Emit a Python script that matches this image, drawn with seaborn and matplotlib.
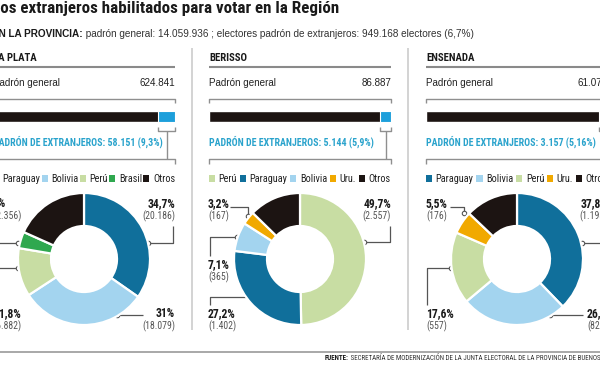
import matplotlib
matplotlib.use("Agg")
import matplotlib.pyplot as plt
import matplotlib.font_manager as fm
from matplotlib.patches import Patch
import seaborn as sns

# ---------------- data ----------------
title = "Los extranjeros habilitados para votar en la Región"
sub_bold = "EN LA PROVINCIA:"
sub_rest = " padrón general: 14.059.936 ; electores padrón de extranjeros: 949.168 electores (6,7%)"
source_bold = "FUENTE:"
source_rest = " SECRETARÍA DE MODERNIZACIÓN DE LA JUNTA ELECTORAL DE LA PROVINCIA DE BUENOS AIRES"

cities = ["LA PLATA", "BERISSO", "ENSENADA"]
padron_general = [624841, 86887, 61075]
padron_extranjeros = [58151, 5144, 3157]
extranjeros_pct = ["9,3%", "5,9%", "5,16%"]

laplata_cats = ["Paraguay", "Bolivia", "Perú", "Brasil", "Otros"]
laplata_vals = [20186, 18079, 6882, 2356, 10648]
laplata_pct = ["34,7%", "31%", "11,8%", "4%", "18,3%"]

berisso_cats = ["Perú", "Paraguay", "Bolivia", "Uru.", "Otros"]
berisso_vals = [2557, 1402, 365, 167, 653]
berisso_pct = ["49,7%", "27,2%", "7,1%", "3,2%", "12,8%"]

ensenada_cats = ["Paraguay", "Bolivia", "Perú", "Uru.", "Otros"]
ensenada_vals = [1193, 824, 557, 176, 407]
ensenada_pct = ["37,8%", "26,1%", "17,6%", "5,5%", "12,9%"]

# ---------------- style ----------------
COLORS = {"Paraguay": "#106f9b", "Bolivia": "#a3d4ef", "Perú": "#c8dda3",
          "Brasil": "#2fa84f", "Uru.": "#f1a900", "Otros": "#1c1412"}
BLACK = "#1c1412"
BAR_BLUE = "#1d9fdb"
TXT_BLUE = "#2aa3cc"
DARK = "#1a1a1a"
GRAY_TXT = "#555555"
LINE = "#8f8f8f"

sns.set_theme(style="white")
names = {f.name for f in fm.fontManager.ttflist}
NARROW = next((n for n in ["Liberation Sans Narrow", "Arial Narrow", "Roboto Condensed"]
               if n in names), "Roboto")
REG = "Liberation Sans" if "Liberation Sans" in names else "DejaVu Sans"
plt.rcParams["font.family"] = [NARROW, "DejaVu Sans"]

W, H = 600, 365
fig = plt.figure(figsize=(6, 3.65), dpi=100)
base = fig.add_axes([0, 0, 1, 1])
base.set_xlim(0, W)
base.set_ylim(H, 0)
base.axis("off")
renderer = fig.canvas.get_renderer()


def fmt(n):
    return f"{n:,}".replace(",", ".")


def width_of(s, fs, **kw):
    t = base.text(0, 0, s, fontsize=fs, **kw)
    w = t.get_window_extent(renderer).width
    t.remove()
    return w


def size_for(s, target, **kw):
    return 10 * target / width_of(s, 10, **kw)


def line(pts, color=LINE, lw=1.0, zorder=3):
    xs, ys = zip(*pts)
    base.plot(xs, ys, color=color, lw=lw, solid_capstyle="butt", zorder=zorder)


# ---------------- title & subtitle ----------------
fs_t = size_for(title, 345, family=[NARROW, "DejaVu Sans"], weight="bold")
base.text(-8, 12.5, title, fontsize=fs_t, weight="bold", color=DARK, va="baseline",
          family=[NARROW, "DejaVu Sans"])

fs_s = 10 * 483 / (width_of(sub_bold, 10, weight="bold", family=[REG]) +
                   width_of(sub_rest, 10, family=[REG]))
t = base.text(-8, 37, sub_bold, fontsize=fs_s, weight="bold", color=DARK,
              va="baseline", family=[REG])
x_end = t.get_window_extent(renderer).x1
base.text(x_end, 37, sub_rest, fontsize=fs_s, color="#333333", va="baseline", family=[REG])

# ---------------- panels ----------------
panels = [(-7, 175), (209, 391), (426, 608)]
fs_head = size_for("BERISSO", 38, weight="bold")
fs_pg = size_for("Padrón general", 68, family=[REG])
fs_ext = size_for("PADRÓN DE EXTRANJEROS: 5.144 (5,9%)", 164, weight="bold")
fs_leg = size_for("Bolivia", 27)
fs_pct = size_for("49,7%", 28, weight="bold")
fs_cnt = size_for("(2.557)", 28)

for x in (192, 408):
    line([(x, 48), (x, 330)], color="#cccccc", lw=1.2)

cat_sets = [laplata_cats, berisso_cats, ensenada_cats]
val_sets = [laplata_vals, berisso_vals, ensenada_vals]
pct_sets = [laplata_pct, berisso_pct, ensenada_pct]

for i, (L, R) in enumerate(panels):
    gen, ext = padron_general[i], padron_extranjeros[i]
    base.text(L, 61, cities[i], fontsize=fs_head, weight="bold", color=DARK, va="baseline")
    line([(L, 66.5), (R, 66.5)], color="#8a8a8a", lw=1.5)
    base.text(L, 86, "Padrón general", fontsize=fs_pg, color="#222222", va="baseline",
              family=[REG])
    base.text(R, 86, fmt(gen), fontsize=fs_pg, color="#222222", va="baseline",
              ha="right", family=[REG])

    # stacked bar
    axb = fig.add_axes([L / W, 1 - 121.5 / H, (R - L) / W, 11 / H])
    sns.barplot(x=[gen], y=["total"], orient="h", color=BLACK, saturation=1,
                width=1, ax=axb)
    axb.barh(0, ext, left=gen - ext, height=1, color=BAR_BLUE, edgecolor="white",
             linewidth=0.8)
    axb.set_xlim(0, gen)
    axb.set_ylim(0.5, -0.5)
    axb.axis("off")

    B = L + (R - L) * (gen - ext) / gen
    M = (B + R) / 2
    line([(L, 103), (L, 98.5), (R, 98.5), (R, 103)])
    line([(B, 127), (B, 131), (R, 131), (R, 127)])
    line([(M, 131), (M, 159)])
    line([(L, 164), (L, 159), (R, 159), (R, 164)])

    base.text(L, 146, f"PADRÓN DE EXTRANJEROS: {fmt(ext)} ({extranjeros_pct[i]})",
              fontsize=fs_ext, weight="bold", color=TXT_BLUE, va="baseline")

    # legend
    cats = cat_sets[i]
    handles = [Patch(facecolor=COLORS[c], edgecolor="none") for c in cats]
    fig.legend(handles, cats, loc="center",
               bbox_to_anchor=(L / W, 1 - 185 / H, (R - L) / W, 12 / H),
               bbox_transform=fig.transFigure, mode="expand", ncol=5, frameon=False,
               handlelength=0.6, handleheight=0.6, handletextpad=0.35,
               borderaxespad=0, borderpad=0, fontsize=fs_leg,
               labelcolor="#222222")

    # donut
    cx, cy, r = (L + R) / 2, 259, 66
    axp = fig.add_axes([(cx - r) / W, 1 - (cy + r) / H, 2 * r / W, 2 * r / H])
    axp.pie(val_sets[i], colors=[COLORS[c] for c in cats], startangle=90,
            counterclock=False, radius=1,
            wedgeprops=dict(width=0.5, edgecolor="white", linewidth=1.6))
    axp.set_xlim(-1, 1)
    axp.set_ylim(-1, 1)
    axp.set_aspect("equal")
    axp.axis("off")

# ---------------- labels with leaders ----------------
# (panel, category, x, baseline of pct, ha, leader points)
labels = [
    (0, "Paraguay", 175, 207, "right", [(148, 243), (173, 243), (173, 226)]),
    (0, "Bolivia", 175, 317, "right", [(117, 315), (143, 315)]),
    (0, "Perú", -7, 317, "left", [(18, 268), (-3, 268)]),
    (0, "Brasil", -7, 207, "left", [(18, 243), (-3, 243)]),
    (1, "Perú", 391, 207, "right", [(364, 242), (390, 242), (390, 226)]),
    (1, "Paraguay", 208, 317, "left", [(258, 297), (210, 297), (210, 305)]),
    (1, "Bolivia", 208, 268, "left", [(237, 237), (210, 237), (210, 256)]),
    (1, "Uru.", 208, 207, "left", [(248, 216), (248, 207), (230, 207)]),
    (2, "Paraguay", 608, 207, "right", [(582, 243), (606, 243), (606, 226)]),
    (2, "Bolivia", 587, 317, "left", [(550, 315), (583, 315)]),
    (2, "Perú", 426, 317, "left", [(451, 268), (427, 268), (427, 305)]),
    (2, "Uru.", 426, 207, "left", [(464, 213), (464, 207), (450, 207)]),
]
for p, cat, x, yb, ha, pts in labels:
    k = cat_sets[p].index(cat)
    base.text(x, yb, pct_sets[p][k], fontsize=fs_pct, weight="bold", color=DARK,
              ha=ha, va="baseline")
    base.text(x, yb + 12.5, f"({fmt(val_sets[p][k])})", fontsize=fs_cnt, color=GRAY_TXT,
              ha=ha, va="baseline")
    line(pts, color="#555555", lw=0.9, zorder=5)
    base.plot([pts[0][0]], [pts[0][1]], marker="o", ms=3.2, mfc="white", mec="#555555",
              mew=0.8, zorder=6)

# ---------------- footer ----------------
line([(0, 352), (W, 352)], color="#9a9a9a", lw=1.2)
fs_f = size_for(source_bold + " SECRETARÍA DE MODERNIZACIÓN DE LA JUNTA ELECTORAL DE LA PROVINCIA DE BUENOS",
                277)
t = base.text(325, 360, source_bold, fontsize=fs_f, weight="bold", color=DARK, va="baseline")
x_end = t.get_window_extent(renderer).x1
base.text(x_end, 360, source_rest, fontsize=fs_f, color="#333333", va="baseline")

fig.savefig("out.png", dpi=100)
